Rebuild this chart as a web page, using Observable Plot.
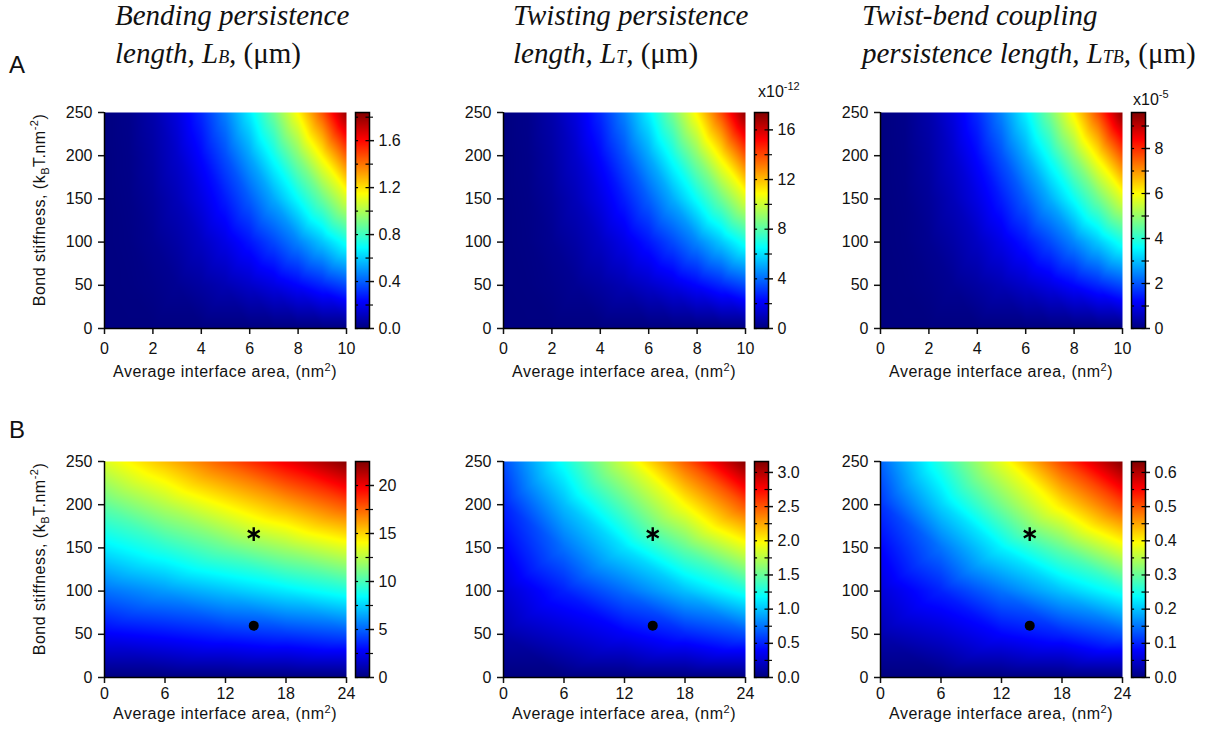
<!DOCTYPE html>
<html>
<head>
<meta charset="utf-8">
<script src="https://cdn.jsdelivr.net/npm/d3@7"></script>
<script src="https://cdn.jsdelivr.net/npm/@observablehq/plot@0.6"></script>
<style>
  body { margin: 0; background: #fff; }
  #root { position: relative; width: 1213px; height: 729px; overflow: hidden;
          font-family: "Liberation Sans", Arial, sans-serif; color: #111; }
  .abs { position: absolute; white-space: nowrap; }
  .title { font-family: "Liberation Serif", "Times New Roman", serif; font-style: italic;
           font-size: 29px; line-height: 38px; color: #111; }
  .up { font-style: normal; }
  .sm { font-size: 62%; }
  .plab { font-size: 24px; line-height: 24px; }
  .axt { font-size: 16px; line-height: 16px; letter-spacing: 0.5px; }
  .exp { font-size: 16px; line-height: 16px; }
  .sup { position: relative; top: -7px; font-size: 11px; }
  .sub { position: relative; top: 4px; font-size: 11px; }
</style>
</head>
<body>
<div id="root"></div>
<script>
// ---------------- data ----------------
const stiffness = [0, 50, 100, 150, 200, 250];           // Bond stiffness, kBT.nm^-2
const stiffTicks = [0, 50, 100, 150, 200, 250];
const areaA = [0, 1, 2, 3, 4, 5, 6, 7, 8, 9, 10];         // row A interface area, nm^2
const areaB = [0, 6, 12, 18, 24];                          // row B interface area, nm^2
const areaTicksA = [0, 2, 4, 6, 8, 10];
const areaTicksB = [0, 6, 12, 18, 24];

// Row A: rows = stiffness, columns = areaA
const bendingA = [   // µm
  [0, 0, 0, 0, 0, 0, 0, 0, 0, 0, 0],
  [0, .004, .015, .034, .06, .092, .132, .178, .232, .293, .36],
  [0, .008, .031, .068, .12, .185, .264, .357, .464, .585, .72],
  [0, .012, .046, .102, .18, .277, .396, .535, .695, .877, 1.08],
  [0, .016, .062, .136, .24, .37, .528, .713, .927, 1.17, 1.44],
  [0, .02, .077, .17, .30, .462, .66, .89, 1.158, 1.46, 1.80]
];
const twistA = [     // ×10^-12 µm
  [0, 0, 0, 0, 0, 0, 0, 0, 0, 0, 0],
  [0, .04, .15, .33, .57, .88, 1.26, 1.7, 2.21, 2.8, 3.44],
  [0, .08, .3, .65, 1.14, 1.77, 2.52, 3.41, 4.43, 5.59, 6.88],
  [0, .11, .44, .98, 1.72, 2.65, 3.79, 5.12, 6.65, 8.39, 10.32],
  [0, .15, .59, 1.3, 2.29, 3.54, 5.05, 6.82, 8.86, 11.18, 13.76],
  [0, .19, .74, 1.63, 2.86, 4.42, 6.31, 8.53, 11.08, 13.98, 17.2]
];
const couplingA = [  // ×10^-5 µm
  [0, 0, 0, 0, 0, 0, 0, 0, 0, 0, 0],
  [0, .02, .08, .18, .32, .49, .7, .94, 1.23, 1.55, 1.9],
  [0, .04, .16, .36, .63, .98, 1.39, 1.88, 2.45, 3.09, 3.8],
  [0, .06, .24, .54, .95, 1.46, 2.09, 2.83, 3.67, 4.63, 5.7],
  [0, .08, .32, .72, 1.26, 1.95, 2.79, 3.77, 4.9, 6.18, 7.6],
  [0, .1, .4, .9, 1.58, 2.44, 3.49, 4.71, 6.12, 7.72, 9.5]
];
// Row B: rows = stiffness, columns = areaB
const bendingB = [
  [0, 0, 0, 0, 0],
  [2.7, 3.1, 3.6, 4.0, 4.5],
  [5.3, 6.2, 7.1, 8.0, 9.0],
  [8.0, 9.3, 10.7, 12.0, 13.4],
  [10.6, 12.4, 14.2, 16.0, 17.9],
  [13.3, 15.5, 17.8, 20.0, 22.4]
];
const twistB = [
  [0, 0, 0, 0, 0],
  [0.13, 0.25, 0.37, 0.5, 0.63],
  [0.25, 0.49, 0.73, 0.99, 1.26],
  [0.38, 0.74, 1.1, 1.49, 1.89],
  [0.5, 0.98, 1.46, 1.98, 2.52],
  [0.63, 1.23, 1.83, 2.48, 3.15]
];
const couplingB = [
  [0, 0, 0, 0, 0],
  [0.03, 0.05, 0.08, 0.10, 0.13],
  [0.055, 0.10, 0.15, 0.20, 0.25],
  [0.08, 0.15, 0.23, 0.30, 0.38],
  [0.11, 0.21, 0.31, 0.41, 0.51],
  [0.14, 0.26, 0.38, 0.51, 0.63]
];
// colour-bar ranges and ticks
const colorMax = [1.84, 17.4, 9.6, 22.5, 3.16, 0.632];
const cbMajor = [
  [0, 0.4, 0.8, 1.2, 1.6], [0, 4, 8, 12, 16], [0, 2, 4, 6, 8],
  [0, 5, 10, 15, 20], [0, 0.5, 1.0, 1.5, 2.0, 2.5, 3.0], [0, 0.1, 0.2, 0.3, 0.4, 0.5, 0.6]
];
const cbMinor = [
  [0.2, 0.6, 1.0, 1.4, 1.8], [2, 6, 10, 14], [1, 3, 5, 7, 9],
  [2.5, 7.5, 12.5, 17.5], [0.25, 0.75, 1.25, 1.75, 2.25, 2.75], [0.05, 0.15, 0.25, 0.35, 0.45, 0.55]
];
const cbFormat = [".1f", "d", "d", "d", ".1f", ".1f"];
// marked points in row B
const markerStar = [{area: 14.8, stiffness: 166}];
const markerDot = [{area: 14.8, stiffness: 60}];

// ---------------- drawing ----------------
const root = document.getElementById("root");
const jetStops = ["#000080", "#0000ff", "#0080ff", "#00ffff", "#80ff80", "#ffff00", "#ff8000", "#ff0000", "#800000"];
const jet = d3.piecewise(d3.interpolateRgb, jetStops);
const colorScale = (cmax) => ({type: "linear", domain: [0, cmax], interpolate: jet, clamp: true});
const W = 242, H = 216;
const FONT = {fontFamily: "Liberation Sans, Arial, sans-serif", fontSize: "16px", color: "#111", background: "transparent", overflow: "visible"};

function place(el, left, top) {
  el.style.position = "absolute";
  el.style.left = left + "px";
  el.style.top = top + "px";
  root.appendChild(el);
}
function html(cls, left, top, inner, extra) {
  const d = document.createElement("div");
  d.className = "abs " + cls;
  d.style.left = left + "px";
  d.style.top = top + "px";
  if (extra) Object.assign(d.style, extra);
  d.innerHTML = inner;
  root.appendChild(d);
  return d;
}

function heatmap(values, areas, ticks, idx, left, top, tickPad, withMarkers) {
  const ml = 60, mr = 20, mt = 12, mb = 40;
  const xmax = areas[areas.length - 1];
  const cells = [];
  stiffness.forEach((k, i) => areas.forEach((a, j) => cells.push({area: a, stiffness: k, value: values[i][j]})));
  const marks = [
    Plot.raster(cells, {x: "area", y: "stiffness", fill: "value", interpolate: "barycentric",
      x1: 0, x2: xmax, y1: 0, y2: 250, width: W, height: H}),
    Plot.axisX({ticks, tickSize: 6, tickPadding: tickPad, strokeWidth: 1.5, label: null}),
    Plot.axisY({ticks: stiffTicks, tickSize: 6, tickPadding: 6, strokeWidth: 1.5, label: null}),
    Plot.ruleX([0], {stroke: "#000", strokeWidth: 1.5}),
    Plot.ruleY([0], {stroke: "#000", strokeWidth: 1.5})
  ];
  if (withMarkers) {
    marks.push(Plot.dot(markerDot, {x: "area", y: "stiffness", r: 5, fill: "#000"}));
    marks.push(Plot.dot(markerStar, {x: "area", y: "stiffness", symbol: "asterisk", r: 6.5, stroke: "#000", strokeWidth: 2.4}));
  }
  const svg = Plot.plot({
    width: W + ml + mr, height: H + mt + mb,
    marginLeft: ml, marginRight: mr, marginTop: mt, marginBottom: mb,
    x: {domain: [0, xmax]}, y: {domain: [0, 250]},
    color: colorScale(colorMax[idx]),
    style: FONT,
    marks
  });
  place(svg, left - ml, top - mt);
}

function colorbar(idx, left, top) {
  const cw = 14, ml = 4, mr = 50, mt = 12, mb = 12;
  const cmax = colorMax[idx];
  const all = [...cbMajor[idx], ...cbMinor[idx]];
  const svg = Plot.plot({
    width: cw + ml + mr, height: H + mt + mb,
    marginLeft: ml, marginRight: mr, marginTop: mt, marginBottom: mb,
    x: {domain: [0, 1], axis: null}, y: {domain: [0, cmax]},
    color: colorScale(cmax),
    style: FONT,
    marks: [
      Plot.raster({fill: (x, y) => y, x1: 0, x2: 1, y1: 0, y2: cmax, width: 1, height: H}),
      Plot.ruleY(all, {x1: 0, x2: 0.22, stroke: "#000", strokeWidth: 1.2}),
      Plot.ruleY(all, {x1: 0.75, x2: 1, stroke: "#000", strokeWidth: 1.2}),
      Plot.frame({stroke: "#000", strokeWidth: 1.5}),
      Plot.axisY({anchor: "right", ticks: cbMajor[idx], tickSize: 4, tickPadding: 5, strokeWidth: 1.5,
        tickFormat: d3.format(cbFormat[idx]), label: null}),
      Plot.axisY({anchor: "right", ticks: cbMinor[idx], tickSize: 3, strokeWidth: 1.2, tickFormat: () => "", label: null})
    ]
  });
  place(svg, left - ml, top - mt);
}

const colLeft = [104, 503, 880];
const rowTop = [112, 461];
const rowVals = [[bendingA, twistA, couplingA], [bendingB, twistB, couplingB]];

rowVals.forEach((vals, r) => {
  vals.forEach((v, c) => {
    const idx = r * 3 + c;
    const areas = r === 0 ? areaA : areaB;
    const ticks = r === 0 ? areaTicksA : areaTicksB;
    heatmap(v, areas, ticks, idx, colLeft[c], rowTop[r], r === 0 ? 8 : 4, r === 1);
    colorbar(idx, colLeft[c] + 251, rowTop[r]);
    html("axt", colLeft[c] + W / 2, r === 0 ? 364 : 706,
      "Average interface area, (nm<span class='sup' style='top:-6px'>2</span>)", {transform: "translateX(-50%)"});
  });
  html("axt", 40, rowTop[r] + H / 2 - 10,
    "Bond stiffness, (k<span class='sub'>B</span>T.nm<span class='sup'>-2</span>)",
    {transform: "translate(-50%, -50%) rotate(-90deg)"});
});

// titles
html("title", 115, -4, "Bending persistence<br>length, L<span class='sm'>B</span>, <span class='up'>(μm)</span>");
html("title", 513, -4, "Twisting persistence<br>length, L<span class='sm'>T</span>, <span class='up'>(μm)</span>");
html("title", 862, -4, "Twist-bend coupling<br>persistence length, L<span class='sm'>TB</span>, <span class='up'>(μm)</span>");
// panel letters
html("plab", 9, 53, "A");
html("plab", 9, 418, "B");
// colour-bar exponents
html("exp", 758, 84, "x10<span class='sup'>-12</span>");
html("exp", 1133, 92, "x10<span class='sup'>-5</span>");
</script>
</body>
</html>
